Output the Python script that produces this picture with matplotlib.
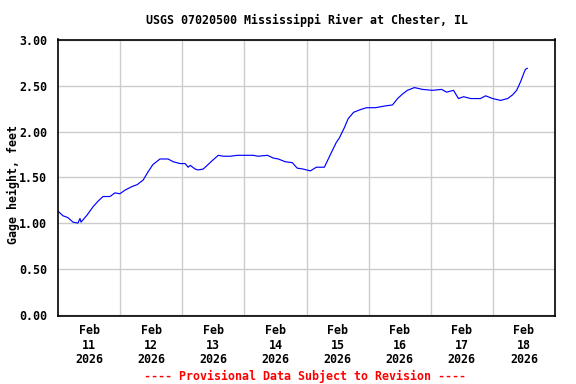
import matplotlib
matplotlib.use("Agg")
import matplotlib.pyplot as plt
import pandas as pd
import numpy as np

# gage height readings, hours after Feb 11 2026 00:00
hours = [0, 1.9, 3.8, 5.8, 7.7, 8.5, 8.9, 11.3, 13.6, 15.5, 17.4, 20.1, 22.0,
         23.9, 25.9, 28.7, 30.6, 32.9, 34.8, 36.7, 39.4, 42.5, 44.5, 47.2,
         49.1, 50.3, 51.1, 53.0, 54.1, 56.1, 58.0, 59.9, 61.9, 63.9, 66.6,
         69.2, 71.6, 75.4, 77.3, 80.9, 83.2, 85.1, 87.8, 90.5, 92.4, 94.7,
         97.5, 99.8, 102.9, 105.6, 107.5, 108.7, 110.6, 112.1, 114.2, 116.9,
         119.2, 122.6, 126.5, 129.2, 131.2, 133.1, 135.0, 137.7, 140.8,
         144.6, 148.2, 150.1, 152.8, 154.7, 156.7, 159.4, 163.2, 165.2,
         167.9, 171.0, 173.7, 175.6, 177.2, 178.8, 180.0, 180.6, 181.3]
gage = [1.13, 1.08, 1.06, 1.01, 1.00, 1.05, 1.01, 1.09, 1.18, 1.24, 1.29, 1.29, 1.33,
        1.32, 1.36, 1.40, 1.42, 1.47, 1.56, 1.64, 1.70, 1.70, 1.67, 1.65,
        1.65, 1.61, 1.63, 1.59, 1.58, 1.59, 1.64, 1.69, 1.74, 1.73, 1.73,
        1.74, 1.74, 1.74, 1.73, 1.74, 1.71, 1.70, 1.67, 1.66, 1.60, 1.59,
        1.57, 1.61, 1.61, 1.77, 1.88, 1.93, 2.04, 2.14, 2.21, 2.24,
        2.26, 2.26, 2.28, 2.29, 2.36, 2.41, 2.45, 2.48, 2.46,
        2.45, 2.46, 2.43, 2.45, 2.36, 2.38, 2.36, 2.36, 2.39,
        2.36, 2.34, 2.36, 2.40, 2.45, 2.55, 2.64, 2.68, 2.69]

days = pd.date_range("2026-02-11", "2026-02-18", freq="D")
yticks = [0, 0.5, 1.0, 1.5, 2.0, 2.5, 3.0]

start = pd.Timestamp("2026-02-11")
t = start + pd.to_timedelta(hours, unit="h")

font = "DejaVu Sans Mono"
fs = 8.4

fig = plt.figure(figsize=(5.76, 3.84), dpi=100)
ax = fig.add_axes([58/576, 1-316/384, 497/576, 276.5/384])

ax.plot(t, gage, color="#0000ff", lw=0.85)

ax.set_xlim(start, start + pd.Timedelta(days=8))
ax.set_ylim(-0.015, 3.005)

ax.set_yticks(yticks)
ax.set_yticklabels(["%.2f" % v for v in yticks], family=font, weight="bold", fontsize=fs)

noon = days + pd.Timedelta(hours=12)
ax.set_xticks(noon)
ax.set_xticklabels([d.strftime("%b\n%d\n%Y") for d in days], family=font,
                   weight="bold", fontsize=fs, linespacing=1.15)
ax.set_xticks(days[1:], minor=True)

ax.grid(False)
ax.grid(True, which="minor", axis="x", color="#cccccc", lw=1)
ax.grid(True, which="major", axis="y", color="#cccccc", lw=1)
ax.set_axisbelow(True)
ax.tick_params(axis="both", which="both", length=0)
ax.tick_params(axis="y", pad=8)
ax.tick_params(axis="x", pad=6)
for s in ax.spines.values():
    s.set_linewidth(1.2)
    s.set_color("black")

fig.text(307/576, 1-20/384, "USGS 07020500 Mississippi River at Chester, IL",
         ha="center", va="center", family=font, weight="bold", fontsize=fs)
fig.text(13/576, 1-184/384, "Gage height, feet", rotation=90, ha="center", va="center",
         family=font, weight="bold", fontsize=fs)
fig.text(305/576, 1-376/384, "---- Provisional Data Subject to Revision ----",
         ha="center", va="center", family=font, weight="bold", fontsize=fs, color="red")

fig.savefig("out.png", dpi=100)
